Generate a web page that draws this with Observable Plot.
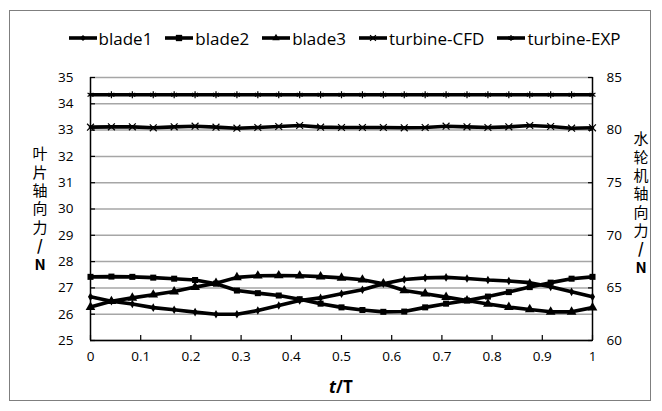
<!DOCTYPE html>
<html><head><meta charset="utf-8">
<script src="https://cdn.jsdelivr.net/npm/d3@7"></script>
<script src="https://cdn.jsdelivr.net/npm/@observablehq/plot@0.6"></script>
<style>
body{margin:0;background:#fff;}
#wrap{position:relative;width:662px;height:411px;overflow:hidden;font-family:"Open Sans",sans-serif;background:#fff;}
#frame{position:absolute;left:9px;top:10px;width:642px;height:391px;border:1px solid #7f7f7f;box-sizing:border-box;}
#legend{position:absolute;left:13px;top:26px;width:662px;height:24px;display:flex;justify-content:center;align-items:center;font-size:17px;color:#000;white-space:nowrap;}
#legend .item{display:flex;align-items:center;margin:0 6px;}
#legend svg{display:block;margin-right:1px;}
#chart{position:absolute;left:0;top:60px;}
.vtitle{writing-mode:vertical-rl;text-orientation:upright;letter-spacing:3.4px;}
</style>
</head><body>
<div id="wrap"><div id="frame"></div><div id="legend"></div><div id="chart"></div></div>
<script>
// sample positions t/T
const tValues = [0,1/24,2/24,3/24,4/24,5/24,6/24,7/24,8/24,9/24,10/24,11/24,12/24,13/24,14/24,15/24,16/24,17/24,18/24,19/24,20/24,21/24,22/24,23/24,1];
// blade axial forces (N, left axis)
const blade1 = [26.66,26.49,26.39,26.25,26.17,26.08,26.00,26.00,26.14,26.33,26.52,26.62,26.78,26.93,27.16,27.32,27.38,27.40,27.36,27.30,27.26,27.20,27.04,26.85,26.66];
const blade2 = [27.42,27.43,27.42,27.39,27.35,27.30,27.16,26.90,26.80,26.71,26.57,26.40,26.26,26.16,26.09,26.10,26.26,26.40,26.52,26.67,26.84,27.03,27.20,27.35,27.42];
const blade3 = [26.27,26.49,26.62,26.74,26.86,27.03,27.18,27.40,27.46,27.47,27.46,27.43,27.38,27.31,27.16,26.90,26.78,26.65,26.52,26.39,26.27,26.18,26.09,26.09,26.25];
// turbine axial forces (N, right axis)
const turbineCFD = [80.28,80.31,80.31,80.22,80.31,80.37,80.28,80.18,80.25,80.34,80.44,80.28,80.25,80.25,80.25,80.22,80.25,80.37,80.31,80.25,80.31,80.44,80.34,80.18,80.22];
const turbineEXP = [83.36,83.36,83.36,83.36,83.36,83.36,83.36,83.36,83.36,83.36,83.36,83.36,83.36,83.36,83.36,83.36,83.36,83.36,83.36,83.36,83.36,83.36,83.36,83.36,83.36];
// axes
const leftTicks = [25,26,27,28,29,30,31,32,33,34,35];
const rightTicks = [60,65,70,75,80,85];
const xTicks = [0,0.1,0.2,0.3,0.4,0.5,0.6,0.7,0.8,0.9,1];
const seriesNames = ["blade1","blade2","blade3","turbine-CFD","turbine-EXP"];
const symbols = ["diamond","square","triangle","times","asterisk"];
const leftTitle = ["叶片轴向力", "/N"];
const rightTitle = ["水轮机轴向力", "/N"];

// right axis mapping: 60..85 onto 25..35
const rightToLeft = v => 25 + (v - 60) / 2.5;

const rows = [];
[blade1, blade2, blade3].forEach((arr, k) => arr.forEach((v, i) => rows.push({series: seriesNames[k], t: tValues[i], y: v})));
[turbineCFD, turbineEXP].forEach((arr, k) => arr.forEach((v, i) => rows.push({series: seriesNames[k+3], t: tValues[i], y: rightToLeft(v)})));

const markSeries = (name, k) => {
  const d = rows.filter(r => r.series === name);
  const sym = symbols[k];
  const filled = k < 3;
  const r = k === 0 ? 2.6 : (k === 1 ? 3.4 : (k === 2 ? 3.6 : 3.2));
  return [
    Plot.line(d, {x: "t", y: "y", stroke: "#000", strokeWidth: 3.6}),
    Plot.dot(d, filled ? {x: "t", y: "y", symbol: () => sym, r, fill: "#000", stroke: "none"}
                       : {x: "t", y: "y", symbol: () => sym, r, stroke: "#000", strokeWidth: 1.2, fill: "none"})
  ];
};

const plot = Plot.plot({
  width: 662, height: 351,
  marginLeft: 90, marginRight: 70, marginTop: 17, marginBottom: 71,
  x: {domain: [0, 1]},
  y: {domain: [25, 35]},
  symbol: {type: "identity"},
  style: {fontFamily: "'Open Sans', sans-serif", fontSize: "13.5px", color: "#000", background: "transparent", overflow: "visible"},
  marks: [
    Plot.gridY(leftTicks, {stroke: "#a6a6a6", strokeOpacity: 1, strokeWidth: 1.5}),
    Plot.ruleX([0, 1], {stroke: "#000", strokeWidth: 1.5}),
    Plot.ruleY([25], {stroke: "#000", strokeWidth: 1.5}),
    // inside tick marks
    Plot.axisY({anchor: "left", ticks: leftTicks, tickSize: 5, dx: 5, tickFormat: () => "", label: null, strokeWidth: 1.2}),
    Plot.axisY({anchor: "right", ticks: rightTicks.map(rightToLeft), tickSize: 5, dx: -5, tickFormat: () => "", label: null, strokeWidth: 1.2}),
    Plot.axisX({anchor: "bottom", ticks: xTicks, tickSize: 5, dy: -5, tickFormat: () => "", label: null, strokeWidth: 1.2}),
    // labels
    Plot.axisY({anchor: "left", ticks: leftTicks, tickSize: 0, tickPadding: 17, label: null}),
    Plot.axisY({anchor: "right", ticks: rightTicks.map(rightToLeft), tickSize: 0, tickPadding: 14, label: null,
      tickFormat: (d) => rightTicks[rightTicks.map(rightToLeft).indexOf(d)]}),
    Plot.axisX({anchor: "bottom", ticks: xTicks, tickSize: 0, tickPadding: 11, label: null, tickFormat: d => String(d)}),
    ...seriesNames.flatMap((n, k) => markSeries(n, k))
  ]
});
document.getElementById("chart").appendChild(plot);

// axis titles: one vertical text each
const svg = d3.select(plot);
const addVertical = (parts, x, yTop) => {
  const t = svg.append("text").attr("class", "vtitle").attr("x", x).attr("y", yTop)
    .attr("text-anchor", "start")
    .attr("fill", "#000").attr("font-size", 15).attr("font-family", "'Noto Sans CJK SC', sans-serif");
  t.append("tspan").text(parts[0]);
  t.append("tspan").attr("font-weight", "bold").text(parts[1]);
};
addVertical(leftTitle, 40, 86);
addVertical(rightTitle, 641, 71);
const xt = svg.append("text").attr("x", 341).attr("y", 333).attr("text-anchor", "middle")
  .attr("font-family", "'Open Sans', sans-serif")
  .attr("font-size", 17).attr("font-weight", "bold").attr("fill", "#000");
xt.append("tspan").attr("font-style", "italic").text("t");
xt.append("tspan").text("/T");

// legend
const legend = d3.select("#legend");
const d3sym = {diamond: d3.symbolDiamond2, square: d3.symbolSquare, triangle: d3.symbolTriangle, times: d3.symbolTimes, asterisk: d3.symbolAsterisk};
seriesNames.forEach((n, k) => {
  const item = legend.append("div").attr("class", "item");
  const s = item.append("svg").attr("width", 30).attr("height", 12);
  s.append("line").attr("x1", 1).attr("x2", 29).attr("y1", 6).attr("y2", 6).attr("stroke", "#000").attr("stroke-width", 3.6);
  const sym = d3.symbol(d3sym[symbols[k]], k === 1 ? 40 : 24);
  const p = s.append("path").attr("d", sym()).attr("transform", "translate(15,6)");
  if (k < 3) p.attr("fill", "#000"); else p.attr("fill", "none").attr("stroke", "#000").attr("stroke-width", 1.2);
  item.append("span").text(n);
});
</script>
</body></html>
